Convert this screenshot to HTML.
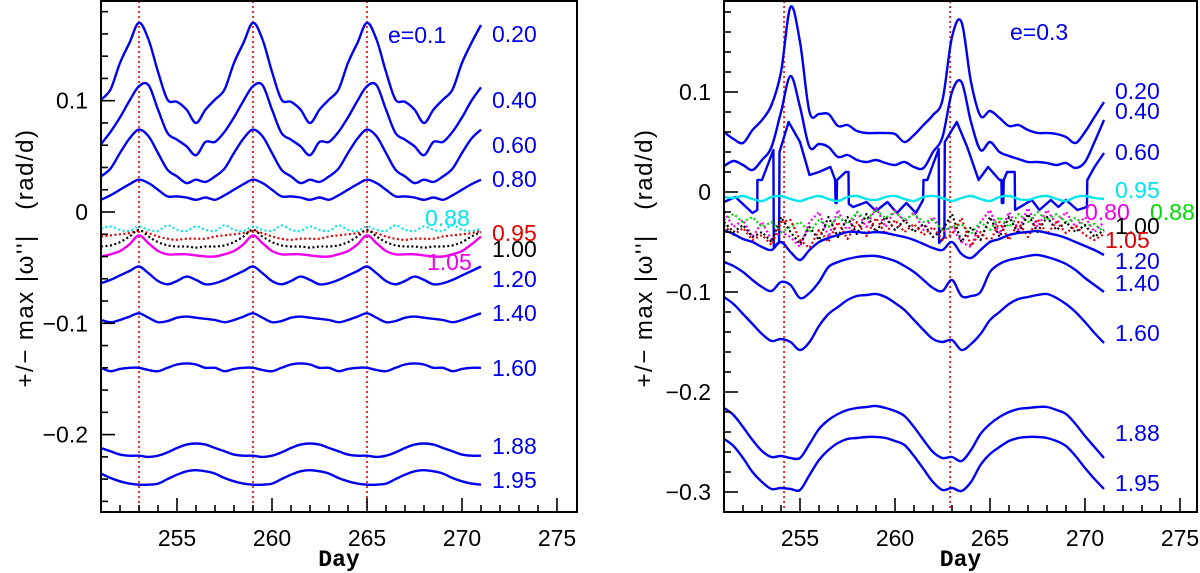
<!DOCTYPE html>
<html><head><meta charset="utf-8"><style>
html,body{margin:0;padding:0;background:#fff;}
svg{display:block;font-family:"Liberation Sans",sans-serif;}
</style></head><body>
<svg id="chart" width="1200" height="573" viewBox="0 0 1200 573"></svg>
<script>
const daysGrid=[251,251.5,252,252.5,253,253.5,254,254.5,255,255.5,256,256.5,257,257.5,258,258.5,259,259.5,260,260.5,261,261.5,262,262.5,263,263.5,264,264.5,265,265.5,266,266.5,267,267.5,268,268.5,269,269.5,270,270.5,271];
const xTicks=[255,260,265,270,275];
const leftYTicks=[0.1,0,-0.1,-0.2];
const leftYTickLabels=["0.1","0","\u22120.1","\u22120.2"];
const rightYTicks=[0.1,0,-0.1,-0.2,-0.3];
const rightYTickLabels=["0.1","0","\u22120.1","\u22120.2","\u22120.3"];
const leftEvents=[253,259,265];
const rightEvents=[254.16,262.9];

// left panel e=0.1
const L020=[0.101,0.110,0.134,0.152,0.170,0.155,0.126,0.101,0.099,0.092,0.080,0.092,0.101,0.110,0.134,0.152,0.170,0.155,0.126,0.101,0.099,0.092,0.080,0.092,0.101,0.110,0.134,0.152,0.170,0.155,0.126,0.101,0.099,0.092,0.080,0.092,0.101,0.110,0.134,0.152,0.168];
const L040=[0.061,0.072,0.085,0.100,0.113,0.114,0.092,0.071,0.065,0.059,0.051,0.063,0.063,0.072,0.085,0.100,0.113,0.114,0.092,0.071,0.065,0.059,0.051,0.063,0.063,0.072,0.085,0.100,0.113,0.114,0.092,0.071,0.065,0.059,0.051,0.063,0.063,0.072,0.085,0.100,0.112];
const L060=[0.032,0.039,0.053,0.066,0.074,0.068,0.053,0.038,0.032,0.026,0.029,0.027,0.032,0.039,0.053,0.066,0.074,0.068,0.053,0.038,0.032,0.026,0.029,0.027,0.032,0.039,0.053,0.066,0.074,0.068,0.053,0.038,0.032,0.026,0.029,0.027,0.032,0.039,0.053,0.066,0.074];
const L080=[0.011,0.015,0.020,0.025,0.029,0.026,0.020,0.014,0.014,0.013,0.011,0.013,0.011,0.015,0.020,0.025,0.029,0.026,0.020,0.014,0.014,0.013,0.011,0.013,0.011,0.015,0.020,0.025,0.029,0.026,0.020,0.014,0.014,0.013,0.011,0.013,0.011,0.015,0.020,0.025,0.029];
const L088=[-0.015,-0.013,-0.016,-0.017,-0.013,-0.016,-0.017,-0.012,-0.016,-0.017,-0.013,-0.016,-0.017,-0.012,-0.016,-0.017,-0.013,-0.016,-0.017,-0.012,-0.016,-0.017,-0.013,-0.016,-0.017,-0.012,-0.016,-0.017,-0.013,-0.016,-0.017,-0.012,-0.016,-0.017,-0.013,-0.016,-0.017,-0.012,-0.016,-0.017,-0.015];
const L095=[-0.022,-0.021,-0.020,-0.019,-0.017,-0.019,-0.022,-0.024,-0.025,-0.024,-0.024,-0.024,-0.022,-0.021,-0.020,-0.019,-0.017,-0.019,-0.022,-0.024,-0.025,-0.024,-0.024,-0.024,-0.022,-0.021,-0.020,-0.019,-0.017,-0.019,-0.022,-0.024,-0.025,-0.024,-0.024,-0.024,-0.022,-0.021,-0.020,-0.019,-0.017];
const L100=[-0.031,-0.030,-0.027,-0.022,-0.016,-0.022,-0.027,-0.030,-0.031,-0.031,-0.032,-0.031,-0.031,-0.030,-0.027,-0.022,-0.016,-0.022,-0.027,-0.030,-0.031,-0.031,-0.032,-0.031,-0.031,-0.030,-0.027,-0.022,-0.016,-0.022,-0.027,-0.030,-0.031,-0.031,-0.032,-0.031,-0.031,-0.030,-0.027,-0.022,-0.018];
const L105=[-0.040,-0.038,-0.035,-0.029,-0.021,-0.028,-0.035,-0.038,-0.038,-0.038,-0.039,-0.040,-0.040,-0.038,-0.035,-0.029,-0.021,-0.028,-0.035,-0.038,-0.038,-0.038,-0.039,-0.040,-0.040,-0.038,-0.035,-0.029,-0.021,-0.028,-0.035,-0.038,-0.038,-0.038,-0.039,-0.040,-0.040,-0.038,-0.035,-0.029,-0.022];
const L120=[-0.064,-0.061,-0.057,-0.053,-0.049,-0.055,-0.062,-0.065,-0.062,-0.058,-0.061,-0.065,-0.064,-0.061,-0.057,-0.053,-0.049,-0.055,-0.062,-0.065,-0.062,-0.058,-0.061,-0.065,-0.064,-0.061,-0.057,-0.053,-0.049,-0.055,-0.062,-0.065,-0.062,-0.058,-0.061,-0.065,-0.064,-0.061,-0.057,-0.053,-0.049];
const L140=[-0.097,-0.099,-0.097,-0.094,-0.091,-0.095,-0.099,-0.098,-0.095,-0.094,-0.095,-0.096,-0.097,-0.099,-0.097,-0.094,-0.091,-0.095,-0.099,-0.098,-0.095,-0.094,-0.095,-0.096,-0.097,-0.099,-0.097,-0.094,-0.091,-0.095,-0.099,-0.098,-0.095,-0.094,-0.095,-0.096,-0.097,-0.099,-0.097,-0.094,-0.091];
const L160=[-0.140,-0.143,-0.141,-0.140,-0.140,-0.142,-0.143,-0.140,-0.137,-0.136,-0.137,-0.140,-0.140,-0.143,-0.141,-0.140,-0.140,-0.142,-0.143,-0.140,-0.137,-0.136,-0.137,-0.140,-0.140,-0.143,-0.141,-0.140,-0.140,-0.142,-0.143,-0.140,-0.137,-0.136,-0.137,-0.140,-0.140,-0.143,-0.141,-0.140,-0.140];
const L188=[-0.212,-0.215,-0.218,-0.219,-0.219,-0.220,-0.219,-0.216,-0.212,-0.209,-0.208,-0.209,-0.212,-0.215,-0.218,-0.219,-0.219,-0.220,-0.219,-0.216,-0.212,-0.209,-0.208,-0.209,-0.212,-0.215,-0.218,-0.219,-0.219,-0.220,-0.219,-0.216,-0.212,-0.209,-0.208,-0.209,-0.212,-0.215,-0.218,-0.219,-0.219];
const L195=[-0.235,-0.239,-0.242,-0.244,-0.245,-0.245,-0.244,-0.240,-0.236,-0.233,-0.232,-0.233,-0.235,-0.239,-0.242,-0.244,-0.245,-0.245,-0.244,-0.240,-0.236,-0.233,-0.232,-0.233,-0.235,-0.239,-0.242,-0.244,-0.245,-0.245,-0.244,-0.240,-0.236,-0.233,-0.232,-0.233,-0.235,-0.239,-0.242,-0.244,-0.245];

// right panel e=0.3
const R020=[0.060,0.053,0.049,0.062,0.072,0.087,0.120,0.185,0.150,0.080,0.078,0.078,0.066,0.067,0.061,0.059,0.059,0.059,0.058,0.050,0.057,0.067,0.077,0.092,0.155,0.170,0.110,0.076,0.081,0.074,0.066,0.067,0.062,0.059,0.059,0.058,0.055,0.049,0.060,0.075,0.090];
const R040=[0.026,0.031,0.027,0.022,0.032,0.045,0.080,0.116,0.085,0.045,0.048,0.045,0.035,0.037,0.032,0.030,0.032,0.029,0.027,0.030,0.025,0.024,0.040,0.055,0.100,0.110,0.070,0.042,0.050,0.040,0.036,0.033,0.030,0.030,0.029,0.027,0.029,0.024,0.030,0.050,0.072];
const R060days=[251,251.6,252.5,252.75,252.76,253.0,253.6,253.62,253.9,253.92,254.4,255.0,255.5,256.0,256.6,256.85,256.87,256.93,256.95,257.4,257.55,257.57,257.8,258.5,259.0,259.6,260.1,260.6,261.1,261.48,261.5,261.7,262.3,262.32,262.6,262.62,263.25,263.8,264.4,264.9,265.5,265.6,265.62,265.7,265.72,265.9,266.3,266.32,267.2,267.6,268.2,268.6,269.0,269.6,270.1,270.12,270.5,271.0];
const R060=[-0.010,-0.005,-0.021,-0.018,0.012,0.012,0.042,-0.055,-0.050,0.040,0.070,0.050,0.017,0.020,0.025,0.012,-0.011,-0.011,0.012,0.020,0.020,-0.012,-0.015,-0.010,-0.019,-0.010,-0.021,-0.011,-0.021,-0.008,0.012,0.012,0.043,-0.051,-0.045,0.050,0.070,0.045,0.012,0.025,0.012,0.012,-0.011,-0.011,0.012,0.020,0.020,-0.018,-0.008,-0.018,-0.008,-0.015,-0.008,-0.018,-0.015,0.012,0.025,0.039];
const R095=[-0.005,-0.006,-0.004,-0.007,-0.009,-0.005,-0.004,-0.007,-0.009,-0.006,-0.004,-0.007,-0.009,-0.005,-0.004,-0.007,-0.008,-0.005,-0.004,-0.007,-0.009,-0.005,-0.004,-0.006,-0.009,-0.006,-0.004,-0.007,-0.009,-0.005,-0.004,-0.007,-0.008,-0.005,-0.004,-0.007,-0.009,-0.005,-0.004,-0.006,-0.007];
const R080=[-0.020,-0.035,-0.028,-0.045,-0.030,-0.048,-0.040,-0.045,-0.055,-0.030,-0.020,-0.045,-0.018,-0.040,-0.020,-0.035,-0.015,-0.035,-0.018,-0.030,-0.020,-0.038,-0.025,-0.040,-0.035,-0.050,-0.055,-0.030,-0.018,-0.042,-0.020,-0.038,-0.016,-0.035,-0.018,-0.032,-0.020,-0.035,-0.025,-0.040,-0.030];
const R088=[-0.028,-0.022,-0.030,-0.025,-0.035,-0.030,-0.040,-0.035,-0.030,-0.040,-0.028,-0.035,-0.025,-0.032,-0.020,-0.028,-0.018,-0.026,-0.020,-0.028,-0.022,-0.030,-0.028,-0.038,-0.035,-0.032,-0.042,-0.030,-0.038,-0.025,-0.035,-0.022,-0.030,-0.020,-0.028,-0.022,-0.030,-0.026,-0.034,-0.032,-0.040];
const R100=[-0.030,-0.040,-0.033,-0.045,-0.040,-0.050,-0.025,-0.040,-0.052,-0.035,-0.048,-0.025,-0.045,-0.025,-0.042,-0.022,-0.040,-0.025,-0.038,-0.028,-0.040,-0.032,-0.045,-0.038,-0.022,-0.050,-0.035,-0.048,-0.025,-0.045,-0.025,-0.042,-0.022,-0.040,-0.025,-0.038,-0.030,-0.040,-0.033,-0.045,-0.038];
const R105=[-0.033,-0.043,-0.036,-0.048,-0.043,-0.053,-0.030,-0.028,-0.048,-0.056,-0.038,-0.050,-0.030,-0.047,-0.030,-0.044,-0.026,-0.042,-0.028,-0.040,-0.032,-0.043,-0.035,-0.048,-0.042,-0.026,-0.054,-0.040,-0.050,-0.030,-0.048,-0.030,-0.045,-0.027,-0.042,-0.030,-0.041,-0.034,-0.043,-0.048,-0.042];
const R120=[-0.038,-0.042,-0.047,-0.050,-0.055,-0.058,-0.050,-0.060,-0.068,-0.058,-0.050,-0.046,-0.043,-0.040,-0.040,-0.041,-0.040,-0.041,-0.043,-0.045,-0.048,-0.052,-0.056,-0.058,-0.050,-0.062,-0.066,-0.058,-0.050,-0.047,-0.043,-0.041,-0.040,-0.039,-0.041,-0.043,-0.046,-0.050,-0.054,-0.058,-0.063];
const R140=[-0.070,-0.074,-0.080,-0.088,-0.095,-0.099,-0.090,-0.093,-0.106,-0.101,-0.090,-0.075,-0.070,-0.067,-0.065,-0.064,-0.064,-0.066,-0.069,-0.074,-0.080,-0.088,-0.096,-0.099,-0.088,-0.104,-0.104,-0.100,-0.080,-0.072,-0.068,-0.066,-0.064,-0.063,-0.065,-0.068,-0.072,-0.078,-0.086,-0.093,-0.100];
const R160=[-0.105,-0.112,-0.122,-0.132,-0.142,-0.149,-0.147,-0.150,-0.158,-0.150,-0.134,-0.122,-0.115,-0.108,-0.104,-0.103,-0.102,-0.105,-0.111,-0.118,-0.128,-0.138,-0.147,-0.150,-0.148,-0.158,-0.152,-0.142,-0.128,-0.120,-0.112,-0.107,-0.105,-0.103,-0.102,-0.106,-0.112,-0.120,-0.130,-0.141,-0.151];
const R188=[-0.216,-0.223,-0.235,-0.248,-0.259,-0.265,-0.264,-0.266,-0.266,-0.252,-0.237,-0.228,-0.222,-0.218,-0.216,-0.215,-0.214,-0.216,-0.219,-0.224,-0.235,-0.248,-0.260,-0.266,-0.265,-0.269,-0.258,-0.242,-0.232,-0.225,-0.220,-0.217,-0.216,-0.215,-0.215,-0.218,-0.222,-0.232,-0.244,-0.255,-0.266];
const R195=[-0.247,-0.254,-0.266,-0.280,-0.290,-0.297,-0.296,-0.297,-0.298,-0.283,-0.268,-0.258,-0.251,-0.247,-0.246,-0.245,-0.245,-0.246,-0.249,-0.253,-0.264,-0.277,-0.290,-0.298,-0.296,-0.299,-0.290,-0.273,-0.262,-0.255,-0.249,-0.246,-0.245,-0.245,-0.246,-0.249,-0.254,-0.264,-0.276,-0.287,-0.297];

const NS="http://www.w3.org/2000/svg";
const svg=document.getElementById('chart');
function mk(tag,attrs,parent){const e=document.createElementNS(NS,tag);for(const k in attrs)e.setAttribute(k,attrs[k]);(parent||svg).appendChild(e);return e;}
function smoothPath(pts){
  let d="M"+pts[0][0].toFixed(1)+","+pts[0][1].toFixed(1);
  for(let i=0;i<pts.length-1;i++){
    const p0=pts[Math.max(0,i-1)],p1=pts[i],p2=pts[i+1],p3=pts[Math.min(pts.length-1,i+2)];
    const c1=[p1[0]+(p2[0]-p0[0])/6,p1[1]+(p2[1]-p0[1])/6];
    const c2=[p2[0]-(p3[0]-p1[0])/6,p2[1]-(p3[1]-p1[1])/6];
    d+="C"+c1[0].toFixed(1)+","+c1[1].toFixed(1)+" "+c2[0].toFixed(1)+","+c2[1].toFixed(1)+" "+p2[0].toFixed(1)+","+p2[1].toFixed(1);
  }
  return d;
}
function linePath(pts){return "M"+pts.map(p=>p[0].toFixed(1)+","+p[1].toFixed(1)).join("L");}

function drawPanel(P){
  const g=mk('g',{});
  
  
  const X=d=>P.x0+P.pxDay*(d-251);
  const Y=v=>P.y0-P.pxUnit*v;
  P.events.forEach(ev=>{
    const l=mk('line',{x1:X(ev),x2:X(ev),y1:P.top,y2:P.bottom,stroke:'#e00000','stroke-width':1.6,'stroke-dasharray':'2,3'},g);
    
    
  });
  P.series.forEach(s=>{
    const days=s.days||daysGrid;
    const n=Math.min(days.length,s.vals.length);
    const pts=[];for(let i=0;i<n;i++)pts.push([X(days[i]),Y(s.vals[i])]);
    const p=mk('path',{d:s.linear?linePath(pts):smoothPath(pts),fill:'none',stroke:s.color,'stroke-width':s.dot?2.2:2.4,'stroke-linejoin':'round'},g);
    if(s.dot)p.setAttribute('stroke-dasharray','2,2.5');
    
    
  });
  const fr=mk('rect',{x:P.x0,y:P.top,width:P.right-P.x0,height:P.bottom-P.top,fill:'none',stroke:'#000','stroke-width':2},g);
  
  
  for(let d=252;d<=276;d++){
    const x=X(d);if(x>=P.right-1)continue;
    const major=d%5===0;
    mk('line',{x1:x,x2:x,y1:P.bottom,y2:P.bottom-(major?14:7),stroke:'#000','stroke-width':1.6},g);
  }
  xTicks.forEach(t=>{
    const tx=mk('text',{x:X(t),y:P.bottom+34,'font-size':23,'text-anchor':'middle',fill:'#000'},g);
    tx.textContent=t;
    
    
  });
  for(let k=-15;k<=10;k++){
    const v=k*0.02;const y=Y(v);
    if(y<P.top+1||y>P.bottom-1)continue;
    const major=(k%5===0);
    mk('line',{x1:P.x0,x2:P.x0+(major?14:7),y1:y,y2:y,stroke:'#000','stroke-width':1.6},g);
  }
  P.yTicks.forEach((t,i)=>{
    const tx=mk('text',{x:P.x0-13,y:Y(t)+8,'font-size':23,'text-anchor':'end',fill:'#000'},g);
    tx.textContent=P.yLabels[i];
    
    
  });
  const xt=mk('text',{x:(P.x0+P.right)/2,y:566,'font-size':23,'text-anchor':'middle',fill:'#000','font-family':'Liberation Mono, monospace','font-weight':'bold'},g);
  xt.textContent='Day';
  
  
  const yt=mk('text',{x:0,y:0,'font-size':24,'letter-spacing':'1.5','text-anchor':'middle',fill:'#000',transform:'translate('+P.titleX+','+P.titleY+') rotate(-90)'},g);
  yt.textContent="+/\u2212 max |\u03c9''|   (rad/d)";
  yt.style.whiteSpace='pre';
  
  
  P.labels.forEach(lb=>{
    const t=mk('text',{x:lb[0],y:lb[1]+8,'font-size':23,fill:lb[3]},g);
    t.textContent=lb[2];
    
    
  });
}

const B='#0000ee';
drawPanel({name:'left-panel-e01',x0:101,right:577,top:1,bottom:512,pxDay:19,y0:212,pxUnit:1113,
  events:leftEvents,yTicks:leftYTicks,yLabels:leftYTickLabels,titleX:33,titleY:258,
  series:[
    {id:'0.20',vals:L020,color:B},{id:'0.40',vals:L040,color:B},{id:'0.60',vals:L060,color:B},{id:'0.80',vals:L080,color:B},
    {id:'0.88',vals:L088,color:'#00e5ee',dot:true},{id:'0.95',vals:L095,color:'#e00000',dot:true},
    {id:'1.00',vals:L100,color:'#000',dot:true},{id:'1.05',vals:L105,color:'#ee00ee'},
    {id:'1.20',vals:L120,color:B},{id:'1.40',vals:L140,color:B},{id:'1.60',vals:L160,color:B},
    {id:'1.88',vals:L188,color:B},{id:'1.95',vals:L195,color:B}],
  labels:[[388,35,'e=0.1',B],[492,34,'0.20',B],[492,100,'0.40',B],[492,145,'0.60',B],[492,179,'0.80',B],
    [425,218,'0.88','#00e5ee'],[492,233,'0.95','#e00000'],[492,249,'1.00','#000'],[427,262,'1.05','#ee00ee'],
    [492,279,'1.20',B],[492,313,'1.40',B],[492,368,'1.60',B],[492,446,'1.88',B],[492,480,'1.95',B]]
});
drawPanel({name:'right-panel-e03',x0:724,right:1197,top:1,bottom:512,pxDay:19,y0:192,pxUnit:1000,
  events:rightEvents,yTicks:rightYTicks,yLabels:rightYTickLabels,titleX:652,titleY:258,
  series:[
    {id:'0.20',vals:R020,color:B},{id:'0.40',vals:R040,color:B},{id:'0.60',vals:R060,days:R060days,color:B,linear:true},
    {id:'0.95',vals:R095,color:'#00e5ee'},
    {id:'0.80',vals:R080,color:'#ee00ee',dot:true,linear:true},{id:'0.88',vals:R088,color:'#00dd00',dot:true,linear:true},
    {id:'1.00',vals:R100,color:'#000',dot:true,linear:true},{id:'1.05',vals:R105,color:'#e00000',dot:true,linear:true},
    {id:'1.20',vals:R120,color:B},{id:'1.40',vals:R140,color:B},{id:'1.60',vals:R160,color:B},
    {id:'1.88',vals:R188,color:B},{id:'1.95',vals:R195,color:B}],
  labels:[[1010,32,'e=0.3',B],[1115,91,'0.20',B],[1115,111,'0.40',B],[1115,152,'0.60',B],[1115,190,'0.95','#00e5ee'],
    [1085,212,'0.80','#ee00ee'],[1150,212,'0.88','#00dd00'],[1115,226,'1.00','#000'],[1105,240,'1.05','#e00000'],
    [1115,261,'1.20',B],[1115,283,'1.40',B],[1115,333,'1.60',B],[1115,433,'1.88',B],[1115,483,'1.95',B]]
});
</script>
</body></html>
